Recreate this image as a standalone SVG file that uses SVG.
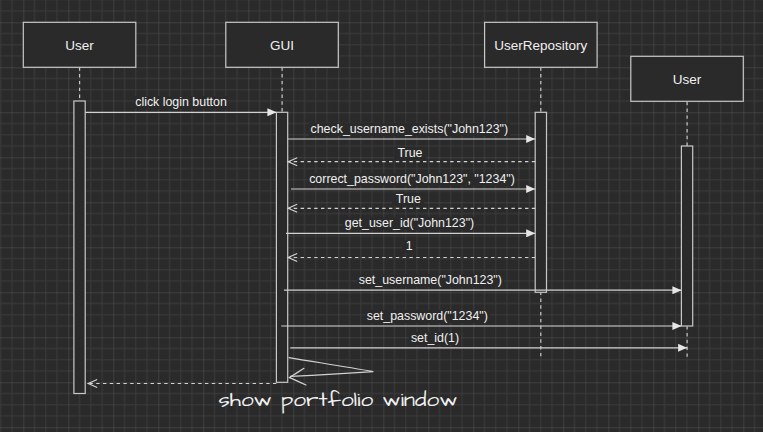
<svg xmlns="http://www.w3.org/2000/svg" width="763" height="432" viewBox="0 0 763 432">
<style>
.box{fill:#2a2a2a;stroke:#c8c8c8;stroke-width:1.2}
.bar{fill:#2a2a2a;stroke:#c8c8c8;stroke-width:1.2}
.life{stroke:#c8c8c8;stroke-width:1.2;stroke-dasharray:3.4 3.4;fill:none}
.msg{stroke:#d2d2d2;stroke-width:1.2;fill:none}
.ret{stroke:#d2d2d2;stroke-width:1.2;fill:none;stroke-dasharray:3.4 3.4}
.lbl{fill:#2a2a2a}
text{font-family:"Liberation Sans",Arial,sans-serif;fill:#f0f0f0;text-anchor:middle}
.nt{font-size:13.5px}
.mt{font-size:12.4px}
.hand{font-family:"Architects Daughter","Comic Sans MS","DejaVu Sans",cursive;font-size:19px}
</style>
<defs>
<pattern id="grid" x="23.3" y="22.3" width="45" height="45" patternUnits="userSpaceOnUse">
<rect width="45" height="45" fill="#2a2a2a"/>
<path d="M11.25 0V45M22.5 0V45M33.75 0V45M0 11.25H45M0 22.5H45M0 33.75H45" stroke="#3b3b3b" stroke-width="1"/>
<path d="M0 0V45M0 0H45" stroke="#545454" stroke-width="1"/>
</pattern>
<marker id="block" viewBox="0 0 9 8" refX="9" refY="4" markerWidth="9" markerHeight="8" markerUnits="userSpaceOnUse" orient="auto">
<path d="M0 0L9 4L0 8Z" fill="#e6e6e6"/>
</marker>
<marker id="open" viewBox="-1 -1 11 11" refX="9" refY="4.5" markerWidth="11" markerHeight="11" markerUnits="userSpaceOnUse" orient="auto" overflow="visible">
<path d="M0 0.5L9 4.5L0 8.5" fill="none" stroke="#d2d2d2" stroke-width="1.2"/>
</marker>
</defs>
<rect width="763" height="432" fill="url(#grid)"/>

<g id="lifelines">
<path class="life" d="M79.6 67.3V101M282.1 67.3V112.3M540.8 67.3V359.8M687.1 101.8V359.8"/>
</g>

<g id="node-user">
<rect class="box" x="23.3" y="22.3" width="112.5" height="45"/>
<text class="nt" x="79.6" y="49.8">User</text>
</g>
<g id="node-gui">
<rect class="box" x="225.8" y="22.3" width="112.5" height="45"/>
<text class="nt" x="282.1" y="49.8">GUI</text>
</g>
<g id="node-userrepository">
<rect class="box" x="484.6" y="22.3" width="112.5" height="45"/>
<text class="nt" x="540.8" y="49.8">UserRepository</text>
</g>
<g id="node-user2">
<rect class="box" x="630.8" y="56.3" width="112.5" height="45"/>
<text class="nt" x="687.1" y="83.6">User</text>
</g>

<g id="activations">
<rect id="act-user" class="bar" x="73.9" y="101" width="11.3" height="292.5"/>
<rect id="act-gui" class="bar" x="276.4" y="112.3" width="11.3" height="270"/>
<rect id="act-repo" class="bar" x="535.2" y="112.3" width="11.3" height="180"/>
<rect id="act-user2" class="bar" x="681.4" y="146" width="11.3" height="180"/>
</g>

<g id="connectors">
<path class="msg" d="M85.2 112.3H276.4" marker-end="url(#block)"/>
<path class="msg" d="M287.7 139H535.2" marker-end="url(#block)"/>
<path class="ret" d="M535.2 161.7H288.2" marker-end="url(#open)"/>
<path class="msg" d="M291 189H535.2" marker-end="url(#block)"/>
<path class="ret" d="M535.2 208.3H288.2" marker-end="url(#open)"/>
<path class="msg" d="M286 233.3H535.2" marker-end="url(#block)"/>
<path class="ret" d="M535.2 257.5H288.2" marker-end="url(#open)"/>
<path class="msg" d="M284 290.2H681.4" marker-end="url(#block)"/>
<path class="msg" d="M281.3 326H681.4" marker-end="url(#block)"/>
<path class="msg" d="M290.3 347.8H687.1" marker-end="url(#block)"/>
<path class="msg" d="M289 357.6C315 362 345 366.5 373.3 371.6C345 373.5 318 375 290.5 376.3" stroke-linecap="round"/>
<path class="msg" d="M304 368.3C299 371.5 294 374.5 289.5 377.6C295 380 300.5 382.5 306 385" stroke-linecap="round"/>
<path class="ret" d="M276.4 383.5H88.2" marker-end="url(#open)"/>

<rect class="lbl" x="134" y="96" width="94" height="13"/>
<text class="mt" x="181" y="106.2">click login button</text>
<rect class="lbl" x="309" y="123" width="201" height="13"/>
<text class="mt" x="409.3" y="133.2">check_username_exists("John123")</text>
<rect class="lbl" x="394" y="147" width="32" height="13"/>
<text class="mt" x="410" y="157">True</text>
<rect class="lbl" x="308" y="173" width="208" height="13"/>
<text class="mt" x="412" y="183">correct_password("John123", "1234")</text>
<rect class="lbl" x="392" y="193" width="32" height="13"/>
<text class="mt" x="408.3" y="203">True</text>
<rect class="lbl" x="343" y="217" width="133" height="13"/>
<text class="mt" x="409.5" y="227.3">get_user_id("John123")</text>
<rect class="lbl" x="402" y="240" width="14" height="13"/>
<text class="mt" x="409.3" y="250">1</text>
<rect class="lbl" x="357" y="274" width="147" height="13"/>
<text class="mt" x="430.3" y="284">set_username("John123")</text>
<rect class="lbl" x="365" y="310" width="125" height="13"/>
<text class="mt" x="427.3" y="320">set_password("1234")</text>
<rect class="lbl" x="409" y="332" width="52" height="13"/>
<text class="mt" x="435" y="342">set_id(1)</text>
<text class="hand" x="338" y="406" textLength="239" lengthAdjust="spacingAndGlyphs">show portfolio window</text>
</g>
</svg>
